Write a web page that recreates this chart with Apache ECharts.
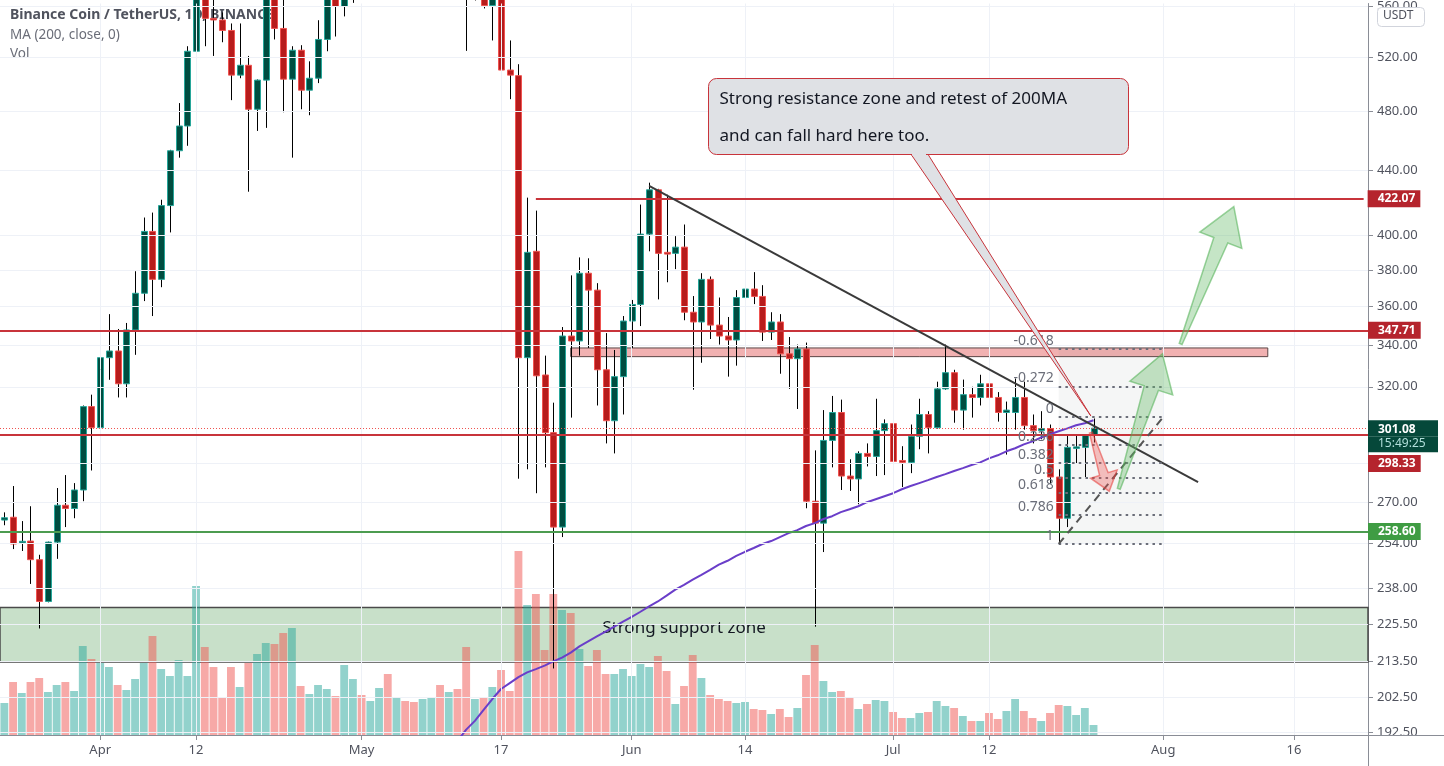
<!DOCTYPE html>
<html>
<head>
<meta charset="utf-8">
<title>BNBUSDT 1D</title>
<script src="https://cdn.jsdelivr.net/npm/echarts@6/dist/echarts.min.js"></script>
<style>
  html, body { margin: 0; padding: 0; background: #fff; }
  #chart { width: 1444px; height: 766px; }
</style>
</head>
<body>
<div id="chart"></div>
<script>
// ---- data ----
const firstDay = '2021-03-21';
const dayCount = 157; // Mar 21 .. Aug 24, the pane's right edge

// [open, close, low, high], one row per day from Mar 21
const ohlc = [
  [263.0, 263.9, 261.0, 266.0], [264.1, 253.9, 252.0, 276.5], [254.3, 254.9, 251.3, 262.6], [255.0, 248.1, 239.4, 268.4],
  [248.1, 233.3, 224.2, 249.9], [233.3, 254.6, 233.0, 254.8], [254.6, 268.8, 248.4, 275.7], [268.8, 267.5, 260.3, 281.0],
  [267.5, 274.9, 263.7, 277.7], [274.9, 310.8, 270.4, 311.3], [310.8, 301.3, 282.9, 316.3], [301.3, 334.0, 299.5, 338.3],
  [334.0, 337.3, 323.3, 356.1], [337.3, 321.4, 315.0, 348.4], [321.4, 347.9, 315.0, 351.5], [347.9, 367.2, 335.4, 379.3],
  [367.2, 402.2, 363.0, 410.5], [402.2, 374.8, 355.1, 413.5], [374.8, 417.8, 370.5, 421.4], [417.8, 452.9, 401.6, 453.5],
  [452.9, 469.7, 448.3, 485.8], [469.7, 524.3, 456.2, 528.2], [524.3, 570.0, 512.7, 585.0], [570.0, 550.3, 528.2, 590.0],
  [550.3, 549.0, 520.7, 575.0], [549.0, 540.6, 531.3, 555.1], [540.6, 506.2, 487.9, 546.2], [506.2, 513.6, 503.9, 546.2],
  [513.6, 481.4, 426.4, 520.7], [481.4, 502.5, 466.3, 503.0], [502.5, 568.0, 468.4, 575.0], [568.0, 542.2, 533.5, 580.0],
  [542.2, 503.2, 479.3, 566.0], [503.2, 525.1, 448.3, 528.2], [525.1, 495.1, 481.4, 529.0], [495.1, 503.9, 477.2, 516.6],
  [503.9, 533.5, 500.3, 548.8], [533.5, 575.0, 524.3, 585.0], [575.0, 560.0, 535.8, 590.0], [560.0, 566.0, 551.9, 580.0],
  [566, 610, 563, 620], [610, 600, 590, 625], [600, 612, 585, 618], [612, 660, 605, 665],
  [660, 618, 590, 668], [618, 660, 610, 668], [660, 640, 630, 675], [640, 632, 620, 660],
  [632, 650, 625, 665], [650, 655, 615, 670], [655, 610, 585, 690], [610, 635, 595, 650],
  [635, 590, 575, 650], [590, 575, 524.6, 615], [575, 600, 565, 615], [600, 560.8, 558.4, 610],
  [560.8, 575, 532.7, 590], [575, 510.0, 482.8, 585], [510.0, 506.2, 488.6, 532.7], [505.8, 334.0, 279.5, 514.4],
  [334.0, 390.0, 283.4, 422.7], [390.6, 325.2, 273.6, 414.7], [325.6, 299.1, 284.2, 335.0], [299.1, 260.3, 211.4, 312.6],
  [260.3, 344.8, 256.5, 349.4], [344.8, 342.3, 305.8, 377.0], [342.3, 378.2, 335.0, 387.1], [378.2, 368.9, 338.8, 386.6],
  [368.9, 328.1, 311.3, 372.7], [328.1, 304.4, 294.4, 346.3], [304.4, 324.8, 290.1, 337.8], [324.8, 352.5, 307.2, 355.1],
  [352.5, 361.2, 338.8, 363.6], [361.2, 400.6, 349.9, 418.4], [400.6, 427.6, 390.6, 432.1], [427.6, 389.4, 363.9, 428.2],
  [390.0, 389.0, 373.2, 424.5], [389.4, 393.0, 380.5, 399.4], [393.0, 357.1, 352.9, 406.3], [357.1, 352.0, 318.6, 365.7],
  [352.0, 374.8, 331.5, 378.2], [374.8, 350.4, 343.3, 376.4], [350.4, 344.8, 340.5, 364.9], [344.8, 342.8, 324.8, 354.6],
  [342.8, 364.9, 330.1, 368.9], [364.9, 369.5, 353.5, 376.4], [369.5, 365.5, 361.4, 378.8], [365.5, 346.8, 342.3, 371.6],
  [346.8, 352.0, 342.8, 357.1], [352.0, 335.9, 326.2, 356.1], [335.9, 333.5, 319.0, 344.3], [333.5, 338.3, 309.7, 340.5],
  [338.3, 270.4, 267.6, 341.5], [270.4, 261.8, 224.8, 291.4], [261.8, 295.7, 250.9, 309.2], [295.7, 308.1, 284.2, 315.7],
  [308.1, 280.6, 274.9, 314.0], [280.6, 279.4, 274.5, 287.6], [279.4, 290.1, 269.2, 291.0], [290.1, 288.8, 284.6, 294.4],
  [288.8, 300.0, 280.6, 314.4], [300.0, 303.1, 281.0, 305.0], [303.1, 286.7, 280.6, 303.5], [287.1, 286.3, 276.1, 293.2],
  [286.3, 297.5, 281.8, 302.7], [297.5, 307.2, 291.9, 314.4], [307.2, 301.3, 290.1, 308.7], [301.3, 319.0, 300.9, 322.4],
  [319.0, 326.7, 318.6, 340.5], [326.7, 309.2, 303.5, 328.1], [309.2, 316.3, 300.4, 323.4], [316.3, 315.0, 305.8, 320.0],
  [315.0, 321.4, 311.3, 325.7], [321.4, 315.0, 308.7, 334.0], [315.0, 308.1, 304.0, 317.5], [308.1, 309.2, 289.6, 313.1],
  [308.1, 315.0, 300.4, 323.9], [315.0, 302.2, 300.4, 322.4], [302.2, 300.0, 294.4, 307.2], [300.0, 300.9, 296.2, 308.7],
  [300.9, 280.2, 277.7, 302.7], [280.2, 263.7, 253.9, 283.4], [263.7, 292.7, 260.3, 298.2], [292.5, 292.9, 285.9, 298.2],
  [292.7, 298.2, 280.2, 298.5], [298.2, 301.08, 294.8, 305.4]
];

// daily volume (10K BNB), same days as ohlc
const volume = [
  32, 53, 42, 53, 57, 43, 50, 53, 44, 89, 76, 72, 68, 50, 45, 56, 72, 99, 66, 59,
  75, 59, 149, 88, 68, 38, 68, 48, 72, 81, 92, 91, 102, 107, 49, 41, 50, 46, 39, 70,
  56, 40, 34, 47, 61, 37, 34, 33, 36, 38, 50, 43, 46, 88, 36, 37, 48, 65, 44, 184,
  130, 141, 85, 141, 125, 122, 86, 69, 85, 61, 61, 66, 59, 71, 68, 79, 64, 31, 49, 80,
  57, 40, 36, 34, 32, 33, 26, 25, 21, 26, 18, 27, 60, 90, 54, 43, 44, 37, 26, 31,
  35, 34, 23, 17, 17, 22, 23, 34, 29, 27, 19, 14, 14, 22, 16, 24, 36, 24, 17, 14,
  22, 30, 29, 20, 27, 10
];

// 200-day MA, shown from May 12 onwards (earlier values are below the pane)
const ma200From = '2021-05-12';
const ma200 = [
  190.0, 193.2, 195.7, 198.9, 202.1, 205.1, 206.9, 208.7, 210.2, 211.2, 212.3, 213.6, 214.8, 216.4,
  218.4, 220.0, 221.6, 223.2, 224.8, 226.5, 228.1, 229.8, 231.6, 233.3, 235.3, 237.4, 239.1, 240.9,
  242.6, 244.4, 246.3, 247.7, 249.5, 251.0, 252.4, 253.9, 255.0, 256.5, 258.0, 259.1, 260.7, 261.8,
  263.4, 264.5, 266.1, 267.2, 268.4, 270.0, 271.2, 272.4, 273.6, 275.2, 276.5, 277.7, 278.9, 280.2,
  281.4, 282.7, 283.9, 285.2, 286.3, 288.0, 289.3, 291.0, 292.3, 294.0, 295.3, 297.0, 298.4, 299.7,
  301.0, 302.4, 303.3, 304.6
];

const priceTicks = [560, 520, 480, 440, 400, 380, 360, 340, 320, 286, 270, 254, 238, 225.5, 213.5, 202.5, 192.5];
const dateTicks = ['2021-04-01', '2021-04-12', '2021-05-01', '2021-05-17', '2021-06-01',
                   '2021-06-14', '2021-07-01', '2021-07-12', '2021-08-01', '2021-08-16'];

// levels drawn on the chart
const resistanceLevel = 422.07, resistanceFrom = '2021-05-21';
const keyLevel = 347.71;
const pivotLevel = 298.33;
const supportLevel = 258.60;
const lastPrice = 301.08, countdown = '15:49:25';
const supplyZone = [334.5, 338.8], supplyFrom = '2021-05-25', supplyTo = '2021-08-13';
const supportZone = [213.4, 231.2];
const trendLine = [['2021-06-03', 430.0], ['2021-08-05', 278.1]];

// fibonacci retracement
const fibLow = 253.9, fibHigh = 306.0, fibFrom = '2021-07-20', fibTo = '2021-08-01';
const fibLevels = [-0.618, -0.272, 0, 0.236, 0.382, 0.5, 0.618, 0.786, 1];

// arrows: [fromDay, fromPrice, toDay, toPrice] (day = index from Mar 21)
const arrowPaths = [[124.7, 299.1, 126.8, 274.4], [127.9, 275.4, 132.9, 335.9], [135.0, 340.8, 141.1, 417.1]];
const arrowKinds = ['down', 'up', 'up'];

// callout: tip [day, price], box top-left [day, price]
const calloutTip = [124.7, 306.5];
const calloutBox = [80.8, 504.0];
const calloutText = ['Strong resistance zone and retest of 200MA', 'and can fall hard here too.'];

// ---- helpers ----
const FONT = '"Noto Sans", "DejaVu Sans", sans-serif';
const months = ['Jan', 'Feb', 'Mar', 'Apr', 'May', 'Jun', 'Jul', 'Aug', 'Sep', 'Oct', 'Nov', 'Dec'];

const dates = [];
const t0 = Date.parse(firstDay + 'T00:00:00Z');
for (let k = 0; k < dayCount; k++) {
  dates.push(new Date(t0 + k * 86400000).toISOString().slice(0, 10));
}
const tickIdx = new Set(dateTicks.map(d => dates.indexOf(d)));
const fmtDate = v => {
  const m = +v.slice(5, 7), d = +v.slice(8, 10);
  return d === 1 ? months[m - 1] : String(d);
};
const fibPrice = l => fibHigh - l * (fibHigh - fibLow);

const maStart = dates.indexOf(ma200From);
const maSeries = dates.map((d, i) => (i >= maStart && i - maStart < ma200.length) ? ma200[i - maStart] : null);

const UP_BODY = '#004d40', UP_EDGE = '#26a69a', DN_BODY = '#b71c1c', DN_EDGE = '#ef5350';
const LINE_RED = '#c8343b', TAG_RED = '#b5242d';

// x pixel for a fractional day index (category coords only take whole days)
function dayX(api, d, p) {
  const i0 = Math.floor(d), f = d - i0;
  const a = api.coord([i0, p]), b = api.coord([i0 + 1, p]);
  return [a[0] + (b[0] - a[0]) * f, a[1]];
}

function renderCandle(params, api) {
  const i = api.value(0);
  const o = api.value(1), c = api.value(2), l = api.value(3), h = api.value(4);
  const po = api.coord([i, o]);
  const slot = api.coord([i + 1, o])[0] - po[0];
  const bw = Math.max(3, Math.round(slot * 0.72));
  const yc = api.coord([i, c])[1], yl = api.coord([i, l])[1], yh = api.coord([i, h])[1];
  const up = c >= o;
  const top = Math.min(po[1], yc);
  const bh = Math.max(Math.abs(po[1] - yc), 1.5);
  const cx = Math.round(po[0]) + 0.5;
  return {
    type: 'group',
    children: [
      { type: 'line', shape: { x1: cx, y1: yh, x2: cx, y2: yl }, style: { stroke: '#000', lineWidth: 1 } },
      { type: 'rect', shape: { x: cx - bw / 2, y: top, width: bw, height: bh },
        style: { fill: up ? UP_BODY : DN_BODY, stroke: up ? UP_EDGE : DN_EDGE, lineWidth: 1 } }
    ]
  };
}

const arrowStyles = {
  down: { head: 18, wing: 28, shaft: 9, fill: 'rgba(239,83,80,0.35)', stroke: 'rgba(229,57,53,0.55)' },
  up: { head: 36, wing: 45, shaft: 15, fill: 'rgba(102,187,106,0.38)', stroke: 'rgba(76,175,80,0.55)' }
};

function renderArrow(params, api) {
  const a = dayX(api, api.value(2), api.value(1));
  const b = dayX(api, api.value(3), api.value(4));
  const st = arrowStyles[arrowKinds[params.dataIndex]];
  const dx = b[0] - a[0], dy = b[1] - a[1], len = Math.hypot(dx, dy);
  const ux = dx / len, uy = dy / len, nx = -uy, ny = ux;
  const cx = b[0] - ux * st.head, cy = b[1] - uy * st.head;
  const side = (w, s) => [cx + nx * w / 2 * s, cy + ny * w / 2 * s];
  const pts = [
    [a[0] + nx * 1.5, a[1] + ny * 1.5], side(st.shaft, 1), side(st.wing, 1), b,
    side(st.wing, -1), side(st.shaft, -1), [a[0] - nx * 1.5, a[1] - ny * 1.5]
  ];
  return { type: 'polygon', shape: { points: pts }, style: { fill: st.fill, stroke: st.stroke, lineWidth: 1.5 } };
}

function renderCallout(params, api) {
  const tip = dayX(api, api.value(2), api.value(1));
  const box = dayX(api, api.value(3), api.value(4));
  const w = 420, h = 76;
  const bx = Math.round(box[0]) + 0.5, by = Math.round(box[1]) + 0.5;
  const fill = '#dfe1e5', edge = '#c8343b';
  const tl = bx + 202, tr = bx + 219;
  return {
    type: 'group',
    children: [
      { type: 'polygon', shape: { points: [[tl, by + h - 1], tip, [tr, by + h - 1]] },
        style: { fill: fill, stroke: edge, lineWidth: 1 } },
      { type: 'rect', shape: { x: bx, y: by, width: w, height: h, r: 8 },
        style: { fill: fill, stroke: edge, lineWidth: 1 } },
      { type: 'rect', shape: { x: tl + 1.5, y: by + h - 2, width: tr - tl - 3, height: 3 },
        style: { fill: fill } },
      { type: 'text', x: bx + 11, y: by + 21,
        style: { text: calloutText[0], font: '17px ' + FONT, fill: '#131722', verticalAlign: 'middle' } },
      { type: 'text', x: bx + 11, y: by + 58,
        style: { text: calloutText[1], font: '17px ' + FONT, fill: '#131722', verticalAlign: 'middle' } }
    ]
  };
}

function priceTag(v, bg) {
  return {
    show: true, position: 'end', distance: 0,
    formatter: v.toFixed(2), color: '#fff', backgroundColor: bg,
    padding: [3, 5, 2, 10], fontSize: 12, fontWeight: 'bold', fontFamily: FONT
  };
}

// ---- chart ----
const chart = echarts.init(document.getElementById('chart'), null, { renderer: 'canvas' });

const gridMarks = [
  ...priceTicks.map(v => ({ yAxis: v })),
  ...dateTicks.map(d => ({ xAxis: d }))
];

const drawMarks = [
  [{ coord: [resistanceFrom, resistanceLevel], lineStyle: { color: LINE_RED, width: 2, type: 'solid' },
     label: Object.assign(priceTag(resistanceLevel, TAG_RED), { distance: 4 }) },
   { coord: [dates[dayCount - 1], resistanceLevel] }],
  { yAxis: keyLevel, lineStyle: { color: LINE_RED, width: 2, type: 'solid' }, label: priceTag(keyLevel, TAG_RED) },
  { yAxis: lastPrice, lineStyle: { color: '#ef5350', width: 1, type: [1, 2] },
    label: {
      show: true, position: 'end', distance: 0,
      formatter: '{gap| }\n{v|' + lastPrice.toFixed(2) + '}\n{t|' + countdown + '}',
      rich: {
        gap: { height: 16 },
        v: { width: 56, backgroundColor: '#05483a', color: '#fff', fontSize: 12, fontWeight: 'bold',
             padding: [3, 4, 1, 10], fontFamily: FONT },
        t: { width: 56, backgroundColor: '#05483a', color: '#b2dfdb', fontSize: 12,
             padding: [1, 4, 3, 10], fontFamily: FONT }
      }
    } },
  { yAxis: pivotLevel, lineStyle: { color: LINE_RED, width: 2, type: 'solid' },
    label: {
      show: true, position: 'end', distance: 0,
      formatter: '{gap| }\n{v|' + pivotLevel.toFixed(2) + '}',
      rich: {
        gap: { height: 58 },
        v: { backgroundColor: TAG_RED, color: '#fff', fontSize: 12, fontWeight: 'bold',
             padding: [3, 5, 2, 10], fontFamily: FONT }
      }
    } },
  { yAxis: supportLevel, lineStyle: { color: '#4c9c50', width: 2, type: 'solid' }, label: priceTag(supportLevel, '#3f9c43') },
  [{ coord: trendLine[0], lineStyle: { color: '#3a3a3a', width: 2, type: 'solid' } }, { coord: trendLine[1] }],
  ...fibLevels.map(l => [
    { coord: [fibFrom, fibPrice(l)], lineStyle: { color: '#6b6e79', width: 2, type: [2.5, 4.2] },
      label: { show: true, position: 'start', distance: 5,
               formatter: '{v|' + String(l) + '}\n{g| }',
               rich: { v: { color: '#6b6e79', fontSize: 14, fontFamily: FONT, align: 'right' },
                       g: { height: 16, fontSize: 2 } } } },
    { coord: [fibTo, fibPrice(l)] }
  ]),
  [{ coord: [fibFrom, fibLow], lineStyle: { color: '#555', width: 2, type: [8, 6] } }, { coord: [fibTo, fibHigh] }]
];

const option = {
  animation: false,
  backgroundColor: '#ffffff',
  textStyle: { fontFamily: FONT },
  grid: [
    { left: -4, right: 76, top: 0, bottom: 31 },
    { left: -4, right: 76, top: 0, bottom: 31 }
  ],
  xAxis: [
    {
      type: 'category', gridIndex: 0, data: dates, boundaryGap: true,
      axisLine: { show: true, lineStyle: { color: '#8a8d96' } },
      axisTick: { show: true, alignWithLabel: true, interval: i => tickIdx.has(i), length: 5,
                  lineStyle: { color: '#8a8d96' } },
      axisLabel: { interval: i => tickIdx.has(i), formatter: fmtDate, color: '#50535e', fontSize: 13, margin: 9 },
      splitLine: { show: false }
    },
    { type: 'category', gridIndex: 1, data: dates, boundaryGap: true, show: false }
  ],
  yAxis: [
    {
      type: 'log', logBase: 10, gridIndex: 0, position: 'right', min: 191.68, max: 562.47,
      axisLine: { show: true, lineStyle: { color: '#8a8d96' } },
      axisTick: { show: true, customValues: priceTicks, length: 5, lineStyle: { color: '#8a8d96' } },
      axisLabel: { customValues: priceTicks, formatter: v => Number(v).toFixed(2), color: '#50535e',
                   fontSize: 13, margin: 9 },
      splitLine: { show: false }
    },
    { type: 'value', gridIndex: 1, min: 0, max: 735, show: false }
  ],
  graphic: [
    { type: 'text', left: 10, top: 8, z: 1,
      style: { text: 'Binance Coin / TetherUS, 1D, BINANCE', font: 'bold 14px ' + FONT, fill: '#50535e' } },
    { type: 'text', left: 10, top: 28, z: 1,
      style: { text: 'MA (200, close, 0)', font: '13.5px ' + FONT, fill: '#6a6d78' } },
    { type: 'text', left: 10, top: 47, z: 1,
      style: { text: 'Vol', font: '13.5px ' + FONT, fill: '#6a6d78' } },
    { type: 'rect', left: 1377, top: 7, z: 20, shape: { width: 47, height: 19, r: 4 },
      style: { fill: '#fff', stroke: '#d1d4dc', lineWidth: 1 } },
    { type: 'text', left: 1383, top: 10, z: 21,
      style: { text: 'USDT', font: '12px ' + FONT, fill: '#50535e' } },
    { type: 'line', z: 20, shape: { x1: 1368, y1: 735.5, x2: 1444, y2: 735.5 },
      style: { stroke: '#8a8d96', lineWidth: 1 } },
    { type: 'line', z: 20, shape: { x1: 1368.5, y1: 735, x2: 1368.5, y2: 766 },
      style: { stroke: '#8a8d96', lineWidth: 1 } }
  ],
  series: [
    {
      name: 'gridlines', type: 'line', data: [], xAxisIndex: 0, yAxisIndex: 0, z: 0, silent: true,
      markLine: { silent: true, symbol: ['none', 'none'], label: { show: false },
                  lineStyle: { color: '#eef1f7', width: 1, type: 'solid' }, data: gridMarks }
    },
    {
      name: 'Vol', type: 'bar', xAxisIndex: 1, yAxisIndex: 1, z: 1, barWidth: '90%', silent: true,
      data: volume.map((v, i) => ({
        value: v,
        itemStyle: { color: ohlc[i][1] >= ohlc[i][0] ? 'rgba(38,166,154,0.5)' : 'rgba(239,83,80,0.5)' }
      }))
    },
    {
      name: 'zones', type: 'line', data: [], xAxisIndex: 0, yAxisIndex: 0, z: 2, silent: true,
      markArea: {
        silent: true,
        data: [
          [{ yAxis: supportZone[1], itemStyle: { color: 'rgba(56,142,60,0.28)', borderColor: '#4a4a4a', borderWidth: 1.5 },
             label: { show: true, position: 'inside', formatter: '{v|Strong support zone}\n{g| }',
                      rich: { v: { color: '#131722', fontSize: 17, fontFamily: FONT }, g: { height: 14, fontSize: 2 } } } },
           { yAxis: supportZone[0] }],
          [{ coord: [supplyFrom, supplyZone[1]], itemStyle: { color: 'rgba(220,60,60,0.4)', borderColor: '#5b4646', borderWidth: 1 },
             label: { show: false } },
           { coord: [supplyTo, supplyZone[0]] }],
          [{ coord: [fibFrom, fibPrice(fibLevels[0])], itemStyle: { color: 'rgba(120,123,134,0.07)' }, label: { show: false } },
           { coord: [fibTo, fibPrice(1)] }]
        ]
      }
    },
    {
      name: 'BNBUSDT', type: 'custom', xAxisIndex: 0, yAxisIndex: 0, z: 3,
      renderItem: renderCandle,
      encode: { x: 0, y: [1, 2, 3, 4] },
      data: ohlc.map((d, i) => [i, d[0], d[1], d[2], d[3]])
    },
    {
      name: 'MA 200', type: 'line', xAxisIndex: 0, yAxisIndex: 0, z: 4, data: maSeries,
      showSymbol: false, symbol: 'none', connectNulls: false, silent: true,
      lineStyle: { color: '#6a3ec9', width: 2 }
    },
    {
      name: 'drawings', type: 'line', data: [], xAxisIndex: 0, yAxisIndex: 0, z: 5, silent: true,
      markLine: { silent: true, symbol: ['none', 'none'], data: drawMarks }
    },
    {
      name: 'arrows', type: 'custom', xAxisIndex: 0, yAxisIndex: 0, z: 6, silent: true,
      renderItem: renderArrow,
      encode: { x: 0, y: 1 },
      data: arrowPaths.map(p => [Math.round(p[0]), p[1], p[0], p[2], p[3]])
    },
    {
      name: 'callout', type: 'custom', xAxisIndex: 0, yAxisIndex: 0, z: 7, silent: true,
      renderItem: renderCallout,
      encode: { x: 0, y: 1 },
      data: [[Math.round(calloutTip[0]), calloutTip[1], calloutTip[0], calloutBox[0], calloutBox[1]]]
    }
  ]
};

chart.setOption(option);
</script>
</body>
</html>
